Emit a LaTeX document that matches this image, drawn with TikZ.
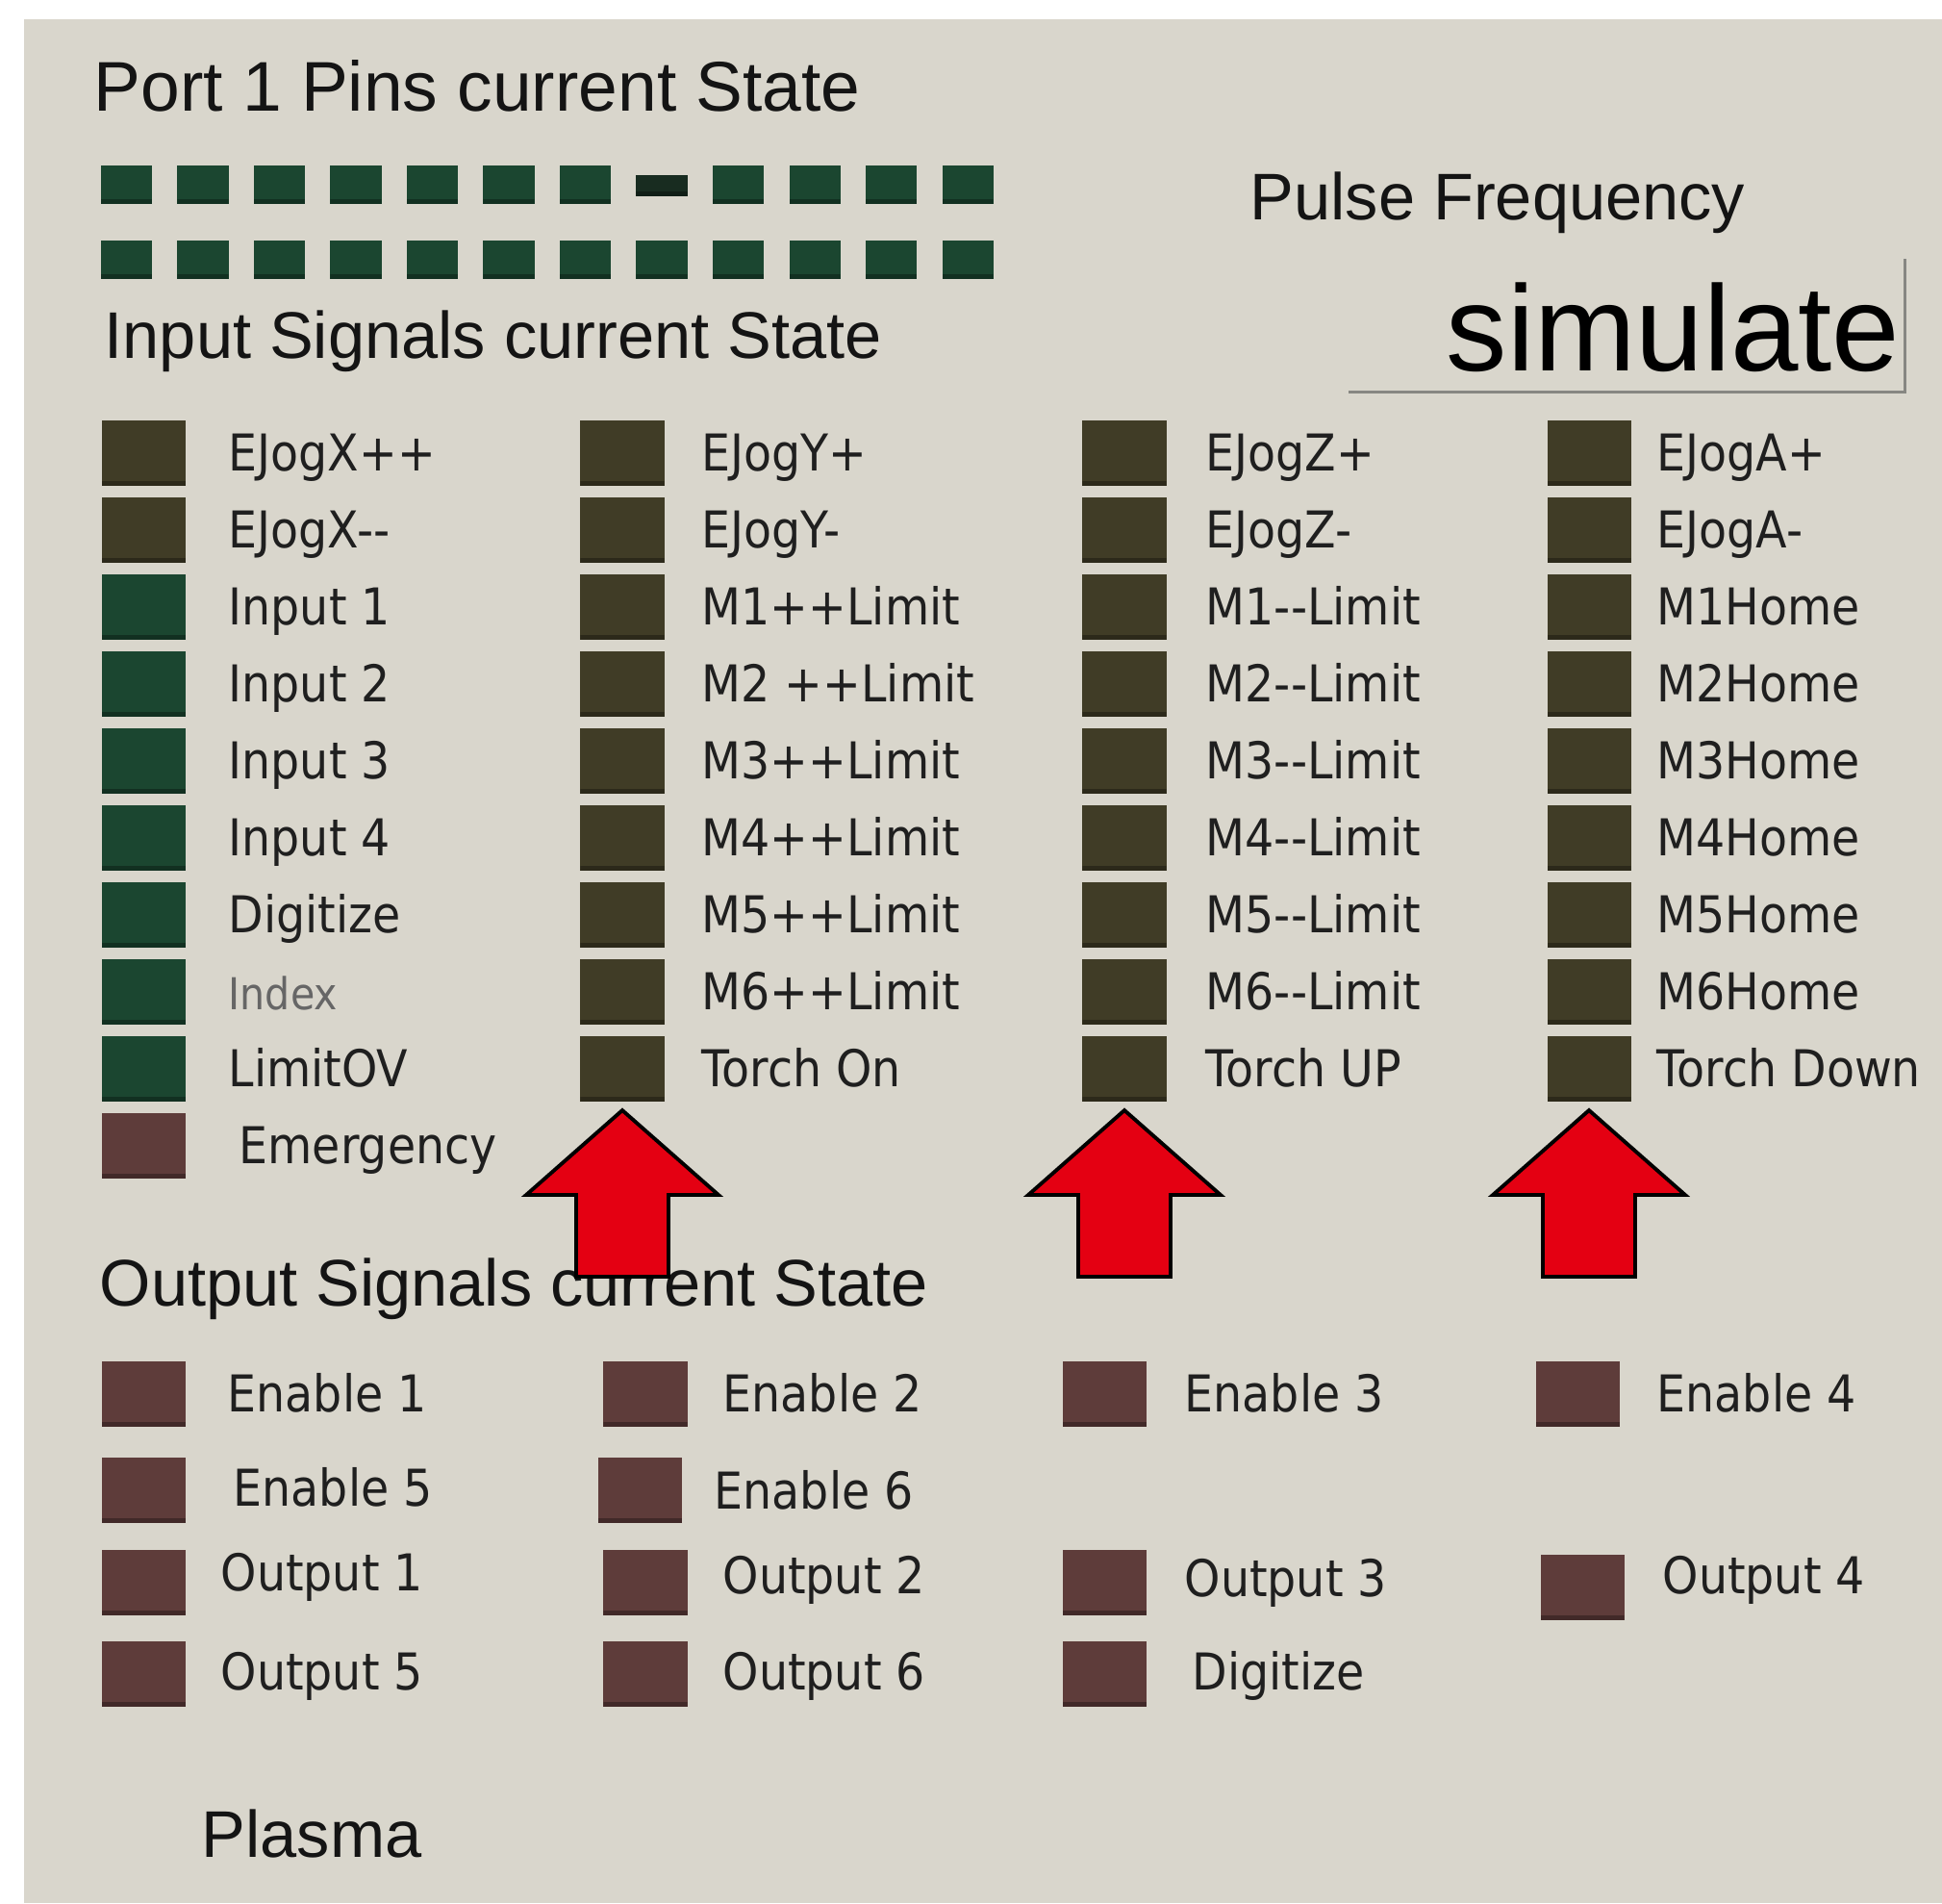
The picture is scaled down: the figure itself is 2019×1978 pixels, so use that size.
\documentclass[tikz,border=0pt]{standalone}
\usepackage{fontspec}
\setmainfont{Liberation Sans}
\newfontfamily\etiqueta[FakeStretch=0.9]{DejaVu Sans}
\usepackage{xcolor}
\definecolor{fondo}{RGB}{217,214,204}
\definecolor{verdePin}{RGB}{27,70,48}
\definecolor{verdeNegro}{RGB}{24,44,32}
\definecolor{oliva}{RGB}{64,60,38}
\definecolor{granate}{RGB}{94,60,58}
\definecolor{rojo}{RGB}{228,0,18}
\definecolor{borde}{RGB}{135,135,130}
\usetikzlibrary{positioning}
\newcommand{\menos}{-\kern0pt-}
\tikzstyle{sombra}=[path picture={\fill[black,opacity=0.3]
                    (path picture bounding box.south west) rectangle
                    ([yshift=0.05cm]path picture bounding box.south east);}]
\tikzstyle{pin}   =[rectangle, sombra, fill=verdePin, minimum width=0.53cm,
                    minimum height=0.40cm, inner sep=0pt, outer sep=0pt]
\tikzstyle{led}   =[rectangle, sombra, minimum width=0.87cm,
                    minimum height=0.68cm, inner sep=0pt, outer sep=0pt]
\tikzstyle{titulo}=[anchor=base west, inner sep=0pt, text=black!92,
                    font=\fontsize{19.5}{23}\selectfont]
\tikzstyle{etq}   =[anchor=base west, inner sep=0pt, text=black!88,
                    font=\etiqueta\fontsize{15}{18}\selectfont]
\tikzstyle{flecha}=[fill=rojo, draw=black, line width=1.1pt, line join=miter]
\tikzset{flechaRoja/.pic={\draw[flecha] (0,0) -- (100,88) -- (48,88) -- (48,173)
                    -- (-48,173) -- (-48,88) -- (-100,88) -- cycle;}}

\begin{document}
\begin{tikzpicture}[x=0.01cm, y=-0.01cm]
    \useasboundingbox (0,0) rectangle (2019,1978);
    \fill[white] (0,0) rectangle (2019,1978);
    \fill[fondo] (25,20) rectangle (2019,1978);

    \node[titulo, font=\fontsize{20.8}{24}\selectfont] (port) at (97,115) {Port 1 Pins current State};
    \foreach \i in {1,...,7,9,10,11,12}
        \node[pin] (p1-\i) at ({131.5+79.5*(\i-1)},192) {};
    \node[pin, fill=verdeNegro, minimum height=0.22cm] (p1-8) at (688,192.5) {};
    \foreach \i in {1,...,12}
        \node[pin] (p2-\i) at ({131.5+79.5*(\i-1)},270) {};

    \node[titulo] (pulso) at (1299,228) {Pulse Frequency};
    \node[minimum width=5.77cm, minimum height=1.37cm, inner sep=0pt] (cajaSim) at (1691.5,338.5) {};
    \draw[borde, line width=0.9pt] (cajaSim.south west) -- (cajaSim.south east) -- (cajaSim.north east);
    \node[anchor=base east, inner sep=0pt, font=\fontsize{36}{40}\selectfont] (sim) at (1976,385) {simulate};

    \node[titulo] (entradas) at (108,372) {Input Signals current State};

    \foreach \col/\txt [count=\i] in {oliva/EJogX++, oliva/EJogX\menos, verdePin/Input 1,
            verdePin/Input 2, verdePin/Input 3, verdePin/Input 4, verdePin/Digitize,
            verdePin/{\color{black!60}\fontsize{13}{15}\selectfont Index}, verdePin/LimitOV}
    {
        \node[led, fill=\col] (in1-\i) at (149.5,{471+80*(\i-1)}) {};
        \node[etq] (e1-\i) at (237,{489+80*(\i-1)}) {\txt};
    }
    \node[led, fill=granate] (in1-10) at (149.5,1191) {};
    \node[etq] (e1-10) at (248,1209) {Emergency};

    \foreach \txt [count=\i] in {EJogY+, EJogY-, M1++Limit, M2 ++Limit, M3++Limit,
            M4++Limit, M5++Limit, M6++Limit, Torch On}
    {
        \node[led, fill=oliva] (in2-\i) at (647,{471+80*(\i-1)}) {};
        \node[etq] (e2-\i) at (729,{489+80*(\i-1)}) {\txt};
    }

    \foreach \txt [count=\i] in {EJogZ+, EJogZ-, M1\menos Limit, M2\menos Limit, M3\menos Limit,
            M4\menos Limit, M5\menos Limit, M6\menos Limit, Torch UP}
    {
        \node[led, fill=oliva] (in3-\i) at (1169,{471+80*(\i-1)}) {};
        \node[etq] (e3-\i) at (1253,{489+80*(\i-1)}) {\txt};
    }

    \foreach \txt [count=\i] in {EJogA+, EJogA-, M1Home, M2Home, M3Home,
            M4Home, M5Home, M6Home, Torch Down}
    {
        \node[led, fill=oliva] (in4-\i) at (1652,{471+80*(\i-1)}) {};
        \node[etq] (e4-\i) at (1722,{489+80*(\i-1)}) {\txt};
    }

    \node[titulo] (salidas) at (103,1357) {Output Signals current State};

    \foreach \x/\y/\lx/\ly/\txt [count=\i] in {
            149.5/1448.5/236/1467/Enable 1, 671/1448.5/751/1467/Enable 2,
            1148.5/1448.5/1231/1467/Enable 3, 1640.5/1448.5/1722/1467/Enable 4,
            149.5/1548.5/242/1565/Enable 5, 665.5/1548.5/742/1568/Enable 6,
            149.5/1645/229/1653/Output 1, 671/1645/751/1656/Output 2,
            1148.5/1645/1231/1659/Output 3, 1645/1650/1728/1656/Output 4,
            149.5/1740/229/1756/Output 5, 671/1740/751/1756/Output 6,
            1148.5/1740/1239/1756/Digitize}
    {
        \node[led, fill=granate] (sal\i) at (\x,\y) {};
        \node[etq] (es\i) at (\lx,\ly) {\txt};
    }

    \node[titulo] (plasma) at (209,1930) {Plasma};

    \pic at ([yshift=-0.09cm]in2-9.south) {flechaRoja};
    \pic at ([yshift=-0.09cm]in3-9.south) {flechaRoja};
    \pic at ([yshift=-0.09cm]in4-9.south) {flechaRoja};
\end{tikzpicture}
\end{document}
